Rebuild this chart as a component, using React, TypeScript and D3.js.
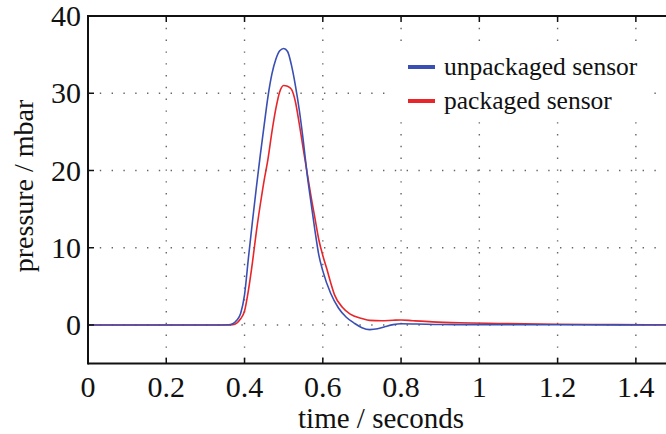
import React, { useEffect, useRef } from "react";
import * as d3 from "d3";

const timeUnpackaged = [0, 0.2, 0.34, 0.36, 0.37, 0.38, 0.39, 0.4, 0.41, 0.42, 0.43, 0.44, 0.45, 0.46, 0.47, 0.48, 0.49, 0.5, 0.51, 0.52, 0.53, 0.54, 0.55, 0.56, 0.57, 0.58, 0.59, 0.6, 0.62, 0.64, 0.66, 0.68, 0.7, 0.72, 0.74, 0.76, 0.78, 0.8, 0.84, 0.9, 1.0, 1.2, 1.5];
const unpackaged = [0, 0, 0, 0.02, 0.15, 0.6, 1.5, 3.9, 8.7, 13.3, 17.7, 21.9, 25.8, 29.6, 32.5, 34.4, 35.5, 35.8, 35.4, 33.6, 31.0, 27.8, 23.9, 19.5, 15.8, 12.2, 9.0, 7.0, 4.1, 2.2, 1.0, 0.25, -0.35, -0.6, -0.5, -0.2, 0.05, 0.15, 0.12, 0.06, 0.04, 0.02, 0];

const timePackaged = [0, 0.2, 0.35, 0.37, 0.38, 0.39, 0.4, 0.41, 0.42, 0.43, 0.44, 0.45, 0.46, 0.47, 0.48, 0.49, 0.5, 0.51, 0.52, 0.53, 0.54, 0.55, 0.56, 0.57, 0.58, 0.59, 0.6, 0.61, 0.62, 0.63, 0.65, 0.67, 0.7, 0.72, 0.75, 0.78, 0.8, 0.83, 0.88, 0.95, 1.05, 1.2, 1.35, 1.5];
const packaged = [0, 0, 0, 0.05, 0.25, 0.8, 1.8, 4.5, 8.0, 12.0, 15.5, 18.7, 21.5, 25.0, 28.0, 30.2, 31.0, 30.9, 30.5, 28.9, 26.0, 22.8, 19.7, 16.6, 13.8, 11.0, 9.0, 7.3, 5.5, 3.9, 2.3, 1.4, 0.85, 0.6, 0.55, 0.62, 0.65, 0.55, 0.4, 0.28, 0.2, 0.1, 0.05, 0.02];

const xTicks = [0, 0.2, 0.4, 0.6, 0.8, 1, 1.2, 1.4];
const yTicks = [0, 10, 20, 30, 40];
const seriesNames = ["unpackaged sensor", "packaged sensor"];
const seriesColors = ["#3a4fb4", "#e8262a"];

const W = 666;
const H = 434;
const M = { left: 88, top: 16, right: 675, bottom: 363.6 };
const FONT = '"Liberation Serif", "Times New Roman", Times, "DejaVu Serif", serif';

export default function App() {
  const ref = useRef<SVGSVGElement | null>(null);

  useEffect(() => {
    const svg = d3.select(ref.current);
    svg.selectAll("*").remove();

    const x = d3.scaleLinear().domain([0, 1.5]).range([M.left, M.right]);
    const y = d3.scaleLinear().domain([-5, 40]).range([M.bottom, M.top]);

    svg.append("rect").attr("width", W).attr("height", H).attr("fill", "white");

    const grid = svg.append("g").attr("stroke", "#666").attr("stroke-width", 1.4).attr("stroke-dasharray", "1.4 10.4");
    xTicks.filter((t) => t > 0).forEach((t) => {
      grid.append("line").attr("x1", x(t)).attr("x2", x(t)).attr("y1", M.top).attr("y2", M.bottom);
    });
    yTicks.filter((t) => t < 40).forEach((t) => {
      grid.append("line").attr("x1", M.left).attr("x2", M.right).attr("y1", y(t)).attr("y2", y(t));
    });

    const series = [
      { t: timeUnpackaged, v: unpackaged },
      { t: timePackaged, v: packaged },
    ];
    const line = d3
      .line<[number, number]>()
      .x((d) => x(d[0]))
      .y((d) => y(d[1]))
      .curve(d3.curveMonotoneX);

    [1, 0].forEach((i) => {
      const s = series[i];
      const pts: [number, number][] = s.t.map((t, k) => [t, s.v[k]]);
      svg
        .append("path")
        .attr("d", line(pts) as string)
        .attr("fill", "none")
        .attr("stroke", seriesColors[i])
        .attr("stroke-width", 1.6);
    });

    const lg = svg.append("g").style("font-family", FONT);
    lg.append("rect").attr("x", 388).attr("y", 44).attr("width", 262).attr("height", 74).attr("fill", "white");
    seriesNames.forEach((name, i) => {
      const yy = 67 + i * 34;
      lg.append("line")
        .attr("x1", 408)
        .attr("x2", 435)
        .attr("y1", yy)
        .attr("y2", yy)
        .attr("stroke", seriesColors[i])
        .attr("stroke-width", 4);
      lg.append("text")
        .attr("x", 444)
        .attr("y", yy + 8)
        .style("font-family", FONT)
        .style("font-size", "25.5px")
        .attr("fill", "#111")
        .text(name);
    });

    const ax = svg.append("g").attr("stroke", "#111").attr("stroke-width", 2).attr("fill", "none");
    ax.append("line").attr("x1", M.left).attr("x2", W).attr("y1", M.top).attr("y2", M.top);
    ax.append("line").attr("x1", M.left).attr("x2", W).attr("y1", M.bottom).attr("y2", M.bottom);
    ax.append("line").attr("x1", M.left).attr("x2", M.left).attr("y1", M.top - 1).attr("y2", M.bottom + 1);
    xTicks.forEach((t) => {
      ax.append("line").attr("x1", x(t)).attr("x2", x(t)).attr("y1", M.bottom).attr("y2", M.bottom - 6).attr("stroke-width", 1.5);
      ax.append("line").attr("x1", x(t)).attr("x2", x(t)).attr("y1", M.top).attr("y2", M.top + 6).attr("stroke-width", 1.5);
    });
    yTicks.forEach((t) => {
      ax.append("line").attr("x1", M.left).attr("x2", M.left + 6).attr("y1", y(t)).attr("y2", y(t)).attr("stroke-width", 1.5);
    });

    const tx = svg.append("g").style("font-family", FONT).style("font-size", "30px").attr("fill", "#111");
    xTicks.forEach((t) => {
      tx.append("text").attr("x", x(t)).attr("y", 397).attr("text-anchor", "middle").text(d3.format("~g")(t));
    });
    yTicks.forEach((t) => {
      tx.append("text").attr("x", 81).attr("y", y(t)).attr("dy", "0.34em").attr("text-anchor", "end").text(String(t));
    });
    tx.append("text")
      .attr("x", 381)
      .attr("y", 428)
      .attr("text-anchor", "middle")
      .style("font-size", "29px")
      .text("time / seconds");
    tx.append("text")
      .attr("transform", `translate(33, 186) rotate(-90)`)
      .attr("text-anchor", "middle")
      .style("font-size", "28px")
      .text("pressure / mbar");
  }, []);

  return <svg ref={ref} width={W} height={H} style={{ position: "absolute", left: 0, top: 0, display: "block" }} />;
}
